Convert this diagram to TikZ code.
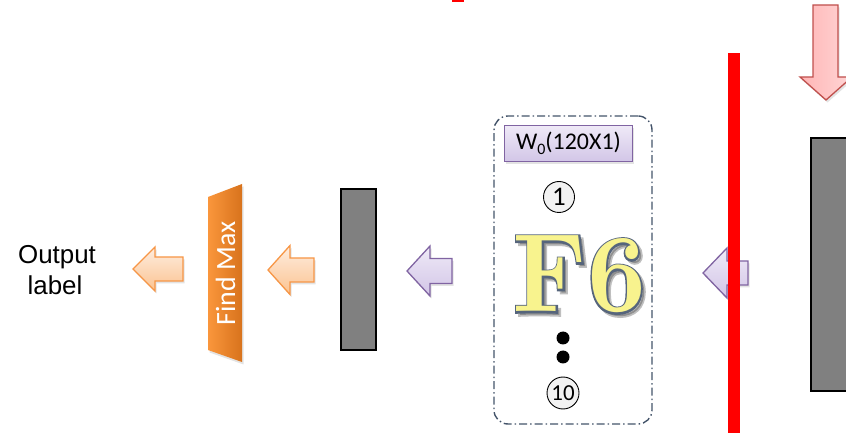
\documentclass[tikz,border=0pt]{standalone}
\usepackage{fontspec}
\newfontfamily\arialfont{Liberation Sans}
\newfontfamily\calfont{Carlito}
% bold face for the layer title, and a stroked copy of it that forms the outline
\newfontface\titleface{lmroman10-bold}[Extension=.otf]
\newfontface\titleoutline{lmroman10-bold}[Extension=.otf, RawFeature={embolden=3.2}]
\usetikzlibrary{shadows}

\definecolor{purpleedge}{HTML}{8064A2}
\definecolor{purplelight}{HTML}{EFEAF7}
\definecolor{purplemid}{HTML}{D2C5E7}
\definecolor{orangeedge}{HTML}{F79646}
\definecolor{orangelight}{HTML}{FEEDE0}
\definecolor{orangemid}{HTML}{FBC390}
\definecolor{findleft}{HTML}{FA963C}
\definecolor{findright}{HTML}{D8731C}
\definecolor{pinkedge}{HTML}{C0504D}
\definecolor{pinkfill}{HTML}{FFB5B5}
\definecolor{pinklight}{HTML}{FFD6D6}
\definecolor{slate}{HTML}{44546A}
\definecolor{fsixfill}{HTML}{F8F38E}
\definecolor{fsixedge}{HTML}{56657C}
\definecolor{circfill}{HTML}{F2F2F2}
\definecolor{barfill}{HTML}{808080}

% left-pointing block arrow: style, tip x, tip y, head base x, head half height, shaft half height, tail x
\newcommand\blockleft[7]{%
  \path[#1] (#2,#3) -- (#4,#3-#5) -- (#4,#3-#6) -- (#7,#3-#6)
    -- (#7,#3+#6) -- (#4,#3+#6) -- (#4,#3+#5) -- cycle;}

\tikzset{
  softshadow/.style={drop shadow={opacity=0.22, shadow xshift=1.5bp, shadow yshift=-2.5bp}},
  purplearrow/.style={draw=purpleedge, line width=1.3bp, line join=miter,
    top color=purplelight, bottom color=purplemid, softshadow},
  orangearrow/.style={draw=orangeedge, line width=1.3bp, line join=miter,
    top color=orangelight, bottom color=orangemid, softshadow},
  pinkarrow/.style={draw=pinkedge, line width=1.3bp, line join=miter,
    left color=pinkfill, right color=pinklight, softshadow},
  featbar/.style={draw=black, line width=2bp, fill=barfill, inner sep=0pt},
  dashbox/.style={draw=slate, line width=1.4bp, rounded corners=14bp,
    dash pattern=on 8bp off 3bp on 1.5bp off 3bp, inner sep=0pt},
  weightbox/.style={draw=purpleedge, line width=1.3bp, top color=purplelight,
    bottom color=purplemid, inner sep=0pt, softshadow,
    font=\calfont\fontsize{24}{24}\selectfont},
  unitcirc/.style={circle, draw=black, line width=0.9bp, fill=circfill, inner sep=0pt},
  labeltext/.style={font=\arialfont\fontsize{26}{26}\selectfont, inner sep=0pt},
  titletext/.style={anchor=base, inner sep=0pt, font=\titleface\fontsize{112}{112}\selectfont},
  titleedge/.style={anchor=base, inner sep=0pt, font=\titleoutline\fontsize{112}{112}\selectfont},
}

\begin{document}
\begin{tikzpicture}[x=1bp, y=-1bp]
  \useasboundingbox (0,0) rectangle (846,433);
  \clip (0,0) rectangle (846,433);

  % output label
  \node[labeltext, anchor=base] (outa) at (57,264) {Output};
  \node[labeltext, anchor=base] (outb) at (55,295) {label};

  % arrows feeding the output
  \blockleft{orangearrow}{133}{269}{155}{22}{12}{183}
  \blockleft{orangearrow}{268}{270}{290}{24.5}{12}{314}

  % find-max stage
  \path[left color=findleft, right color=findright, softshadow]
    (208,197) -- (242,184) -- (242,362) -- (208,350) -- cycle;
  \node[anchor=base, rotate=90, text=white, inner sep=0pt,
        font=\calfont\fontsize{28}{28}\selectfont] (findmax) at (235,273.5) {Find Max};

  % output vector of F6
  \node[featbar, minimum width=35bp, minimum height=161bp] (outvec) at (358.5,269.5) {};

  \blockleft{purplearrow}{407}{271}{430}{25}{12.5}{452}

  % fully connected layer F6
  \node[dashbox, minimum width=158bp, minimum height=308bp] (fsixbox) at (573,270) {};
  \node[weightbox, minimum width=128bp, minimum height=36bp] (weights) at (568.5,143.5)
    {W\raisebox{-0.22em}{\fontsize{16}{16}\selectfont 0}(120X1)};
  \node[unitcirc, minimum size=31bp, font=\calfont\fontsize{27}{27}\selectfont] (unitone) at (559,197) {1};
  \node[titleedge, text=black, text opacity=0.25] (fsixshadow) at (582.5,315)
    {\scalebox{0.92}[1]{F6}};
  \node[titleedge, text=fsixedge] (fsixedge) at (579.5,312)
    {\scalebox{0.92}[1]{F6}};
  \node[titletext, text=fsixfill] (fsix) at (579.5,312)
    {\scalebox{0.92}[1]{F6}};
  \node[circle, fill=black, inner sep=0pt, minimum size=13bp] (dotone) at (563,338) {};
  \node[circle, fill=black, inner sep=0pt, minimum size=13bp] (dottwo) at (563,357) {};
  \node[unitcirc, minimum size=32bp, font=\calfont\fontsize{23}{23}\selectfont] (unitten) at (563,393) {10};

  % input arrow and cut line
  \blockleft{purplearrow}{703}{273}{727}{25}{12}{748}
  \fill[red] (728,53) rectangle (740,433);
  \fill[red] (452,0) rectangle (464,2.5);

  % previous layer output
  \node[featbar, minimum width=50bp, minimum height=253bp] (invec) at (836,264.5) {};
  \path[pinkarrow] (826,100) -- (800,77) -- (813,77) -- (813,5) -- (838,5) -- (838,77) -- (852,77) -- cycle;
\end{tikzpicture}
\end{document}
